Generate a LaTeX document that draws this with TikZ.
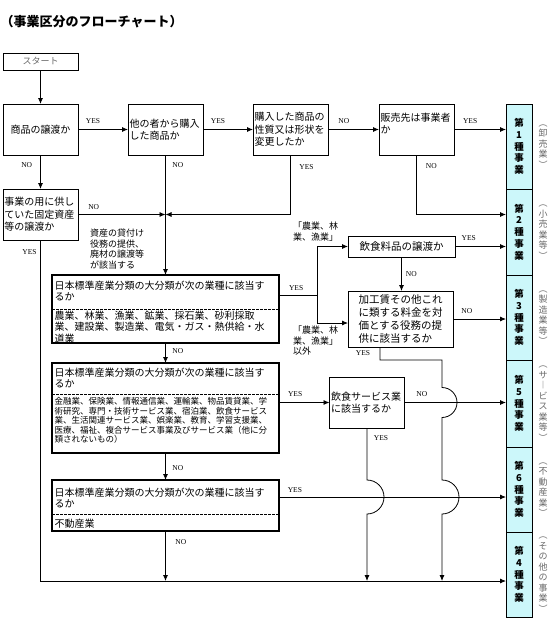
\documentclass[tikz,border=0pt]{standalone}
\usepackage{fontspec}
\setmainfont{Liberation Serif}
\newfontfamily\jp{Noto Sans CJK JP}
\usepackage{tikz}
\usetikzlibrary{arrows.meta, positioning, calc}
\definecolor{kindcyan}{RGB}{204, 247, 250}
\definecolor{notegray}{RGB}{105, 105, 105}

\begin{document}
\begin{tikzpicture}[
    x=1pt, y=-1pt,
    startbox/.style={draw, line width=0.9pt, minimum width=75pt, minimum height=17pt,
                     inner sep=0pt, outer sep=0pt, text=notegray, font=\jp\fontsize{9}{9}\selectfont},
    qbox/.style={draw, line width=0.9pt, minimum width=75pt, minimum height=51pt, outer sep=0pt,
                 text width=72pt, inner sep=1.5pt, align=left, font=\jp\fontsize{10}{12.5}\selectfont},
    wbox/.style={draw, line width=0.9pt, minimum width=#1, outer sep=0pt, inner sep=0pt,
                 font=\jp\fontsize{10.5}{13}\selectfont},
    bigbox/.style={draw, line width=1.1pt, minimum width=227pt, minimum height=#1,
                   inner sep=0pt, outer sep=0pt},
    bigtext/.style={anchor=north west, inner sep=0pt, align=left, font=\jp\fontsize{10}{11.5}\selectfont},
    smalltext/.style={anchor=north west, inner sep=0pt, align=left, font=\jp\fontsize{8.5}{9.5}\selectfont},
    divider/.style={line width=1pt, dash pattern=on 2.5pt off 1.5pt},
    kind/.style={draw, line width=0.9pt, fill=kindcyan, minimum width=26pt, minimum height=#1,
                 inner sep=0pt, outer sep=0pt, align=center, font=\jp\bfseries\fontsize{9.5}{11.8}\selectfont},
    kindnote/.style={text=notegray, align=center, inner sep=0pt, font=\jp\fontsize{9}{10.5}\selectfont},
    note/.style={anchor=north west, inner sep=0pt, align=left, font=\jp\fontsize{9}{10.7}\selectfont},
    lbl/.style={inner sep=1.5pt, font=\fontsize{7.5}{8}\selectfont},
    arr/.style={-{Latex[length=6pt,width=5pt]}, line width=0.8pt},
    wire/.style={line width=0.8pt}
]
    \useasboundingbox (0,0) rectangle (551,640);

    \node[anchor=west, inner sep=0pt, font=\jp\bfseries\fontsize{13}{13}\selectfont] (title) at (0.5,22) {（事業区分のフローチャート）};

    % questions, top row
    \node[startbox] (start) at (40.5,61.5) {スタート};
    \node[qbox, align=center] (q1) at (40.5,129.5) {商品の譲渡か};
    \node[qbox, right=50pt of q1] (q2) {他の者から購入\\した商品か};
    \node[qbox, right=50pt of q2] (q3) {購入した商品の\\性質又は形状を\\変更したか};
    \node[qbox, right=51pt of q3] (q4) {販売先は事業者\\か\\\mbox{}};
    \node[qbox, below=34pt of q1] (q5) {事業の用に供し\\ていた固定資産\\等の譲渡か};

    % business kinds
    \node[kind=85pt] (k1) at (519,146.5) {第\\1\\種\\事\\業};
    \node[kind=86pt, below=0pt of k1] (k2) {第\\2\\種\\事\\業};
    \node[kind=85pt, below=0pt of k2] (k3) {第\\3\\種\\事\\業};
    \node[kind=87pt, below=0pt of k3] (k5) {第\\5\\種\\事\\業};
    \node[kind=85pt, below=0pt of k5] (k6) {第\\6\\種\\事\\業};
    \node[kind=85pt, below=0pt of k6] (k4) {第\\4\\種\\事\\業};
    \node[kindnote, right=6.5pt of k1] (n1) {︵\\卸\\売\\業\\︶};
    \node[kindnote, right=6.5pt of k2] (n2) {︵\\小\\売\\業\\等\\︶};
    \node[kindnote, right=6.5pt of k3] (n3) {︵\\製\\造\\業\\等\\︶};
    \node[kindnote, right=6.5pt of k5] (n5) {︵\\サ\\︱\\ビ\\ス\\業\\等\\︶};
    \node[kindnote, right=6.5pt of k6] (n6) {︵\\不\\動\\産\\業\\︶};
    \node[kindnote, right=6.5pt of k4] (n4) {︵\\そ\\の\\他\\の\\事\\業\\︶};

    % classification boxes
    \node[bigbox=68pt] (bigA) at (165.5,309) {};
    \node[bigbox=90pt, below=20pt of bigA] (bigB) {};
    \node[bigbox=51pt, below=27pt of bigB] (bigC) {};
    \draw[divider] (bigA.west) -- (bigA.east);
    \draw[divider] ([yshift=14pt]bigB.west) -- ([yshift=14pt]bigB.east);
    \draw[divider] ([yshift=-8.5pt]bigC.west) -- ([yshift=-8.5pt]bigC.east);
    \node[bigtext] (aq) at ([xshift=2.5pt,yshift=-5.5pt]bigA.north west) {日本標準産業分類の大分類が次の業種に該当す\\るか};
    \node[bigtext] (aa) at ([xshift=2.5pt,yshift=-1.5pt]bigA.west) {農業、林業、漁業、鉱業、採石業、砂利採取\\業、建設業、製造業、電気・ガス・熱供給・水\\道業};
    \node[bigtext] (bq) at ([xshift=2.5pt,yshift=-4.5pt]bigB.north west) {日本標準産業分類の大分類が次の業種に該当す\\るか};
    \node[smalltext] (ba) at ([xshift=2.5pt,yshift=-34.5pt]bigB.north west) {金融業、保険業、情報通信業、運輸業、物品賃貸業、学\\術研究、専門・技術サービス業、宿泊業、飲食サービス\\業、生活関連サービス業、娯楽業、教育、学習支援業、\\医療、福祉、複合サービス事業及びサービス業（他に分\\類されないもの）};
    \node[bigtext] (cq) at ([xshift=2.5pt,yshift=-7.5pt]bigC.north west) {日本標準産業分類の大分類が次の業種に該当す\\るか};
    \node[bigtext] (ca) at ([xshift=2.5pt,yshift=-38.5pt]bigC.north west) {不動産業};

    % side questions
    \node[wbox=107pt, minimum height=21pt] (food) at (401.5,246.5) {飲食料品の譲渡か};
    \node[wbox=105pt, minimum height=56pt, text width=84pt, align=left] (proc) at (400.5,319) {加工賃その他これ\\に類する料金を対\\価とする役務の提\\供に該当するか};
    \node[qbox] (serv) at (367,402.5) {飲食サービス業\\に該当するか};

    \node[note] (lend) at (90,228.5) {資産の貸付け\\役務の提供、\\廃材の譲渡等\\が該当する};
    \node[note] (agri) at (293,221.5) {「農業、林\\業、漁業」};
    \node[note] (nonagri) at (293,325.5) {「農業、林\\業、漁業」\\以外};

    \coordinate (bot) at (40.5,581);
    \coordinate (split) at ([xshift=38pt,yshift=14pt]bigA.east);
    \coordinate (cyes) at ([yshift=8.5pt]bigC.east);
    \coordinate (jog) at (442,360);

    % connectors
    \draw[arr] (start) -- (q1);
    \draw[arr] (q1) -- node[lbl, above=4pt, pos=0.3] {YES} (q2);
    \draw[arr] (q2) -- node[lbl, above=4pt, pos=0.3] {YES} (q3);
    \draw[arr] (q3) -- node[lbl, above=4pt, pos=0.31] {NO} (q4);
    \draw[arr] (q4) -- node[lbl, above=4pt, pos=0.31] {YES} (k1.west |- q4.east);
    \draw[arr] (q1) -- node[lbl, left=6.5pt, pos=0.3] {NO} (q5);
    \draw[arr] (q2.south) -- node[lbl, right=5pt, pos=0.083] {NO} (q2.south |- bigA.north);
    \draw[arr] (q5.east) -- node[lbl, above=3pt, pos=0.18] {NO} (q2.south |- q5.east);
    \draw[arr] (q3.south) |- node[lbl, right=7pt, pos=0.1] {YES} (q2.south |- q5.east);
    \draw[arr] (q4.south) |- node[lbl, right=7.5pt, pos=0.09] {NO} (k2.west |- q5.east);
    \draw[arr] (q5.south) -- node[lbl, left=2pt, pos=0.035] {YES} (bot) -- (k4.west |- bot);

    \draw[wire] ([yshift=14pt]bigA.east) -- node[lbl, above=3pt, pos=0.45] {YES} (split);
    \draw[arr] (split) |- (food.west);
    \draw[arr] (split) |- ([yshift=-4pt]proc.west);
    \draw[arr] (food) -- node[lbl, above=4pt, pos=0.27] {YES} (k2.west |- food.east);
    \draw[arr] (food) -- node[lbl, right=2.5pt, pos=0.5] {NO} (food.south |- proc.north);
    \draw[arr] (proc) -- node[lbl, above=4pt, pos=0.26] {NO} (k3.west |- proc.east);
    \draw[arr] ([xshift=-20.5pt]proc.south) |- node[lbl, left=8pt, pos=0.23] {YES} (jog)
        -- ($(jog |- serv.east)+(0,-15)$) arc[start angle=90, end angle=-90, radius=15pt]
        -- ($(jog |- cyes)+(0,-17)$) arc[start angle=90, end angle=-90, radius=17pt]
        -- (jog |- bot);

    \draw[arr] (bigA) -- node[lbl, right=5pt, pos=0.4] {NO} (bigB);
    \draw[arr] (bigB.east |- serv.west) -- node[lbl, above=4pt, pos=0.32] {YES} (serv.west);
    \draw[arr] (serv) -- node[lbl, above=4pt, pos=0.17] {NO} (k5.west |- serv.east);
    \draw[arr] (serv.south) -- node[lbl, right=5pt, pos=0.19] {YES} ($(serv.south |- cyes)+(0,-17)$)
        arc[start angle=90, end angle=-90, radius=17pt] -- (serv.south |- bot);
    \draw[arr] (bigB) -- node[lbl, right=5pt, pos=0.55] {NO} (bigC);
    \draw[arr] (cyes) -- node[lbl, above=3pt, pos=0.07] {YES} (k6.west |- cyes);
    \draw[arr] (bigC.south) -- node[lbl, right=8pt, pos=0.22] {NO} (bigC.south |- bot);
\end{tikzpicture}
\end{document}
